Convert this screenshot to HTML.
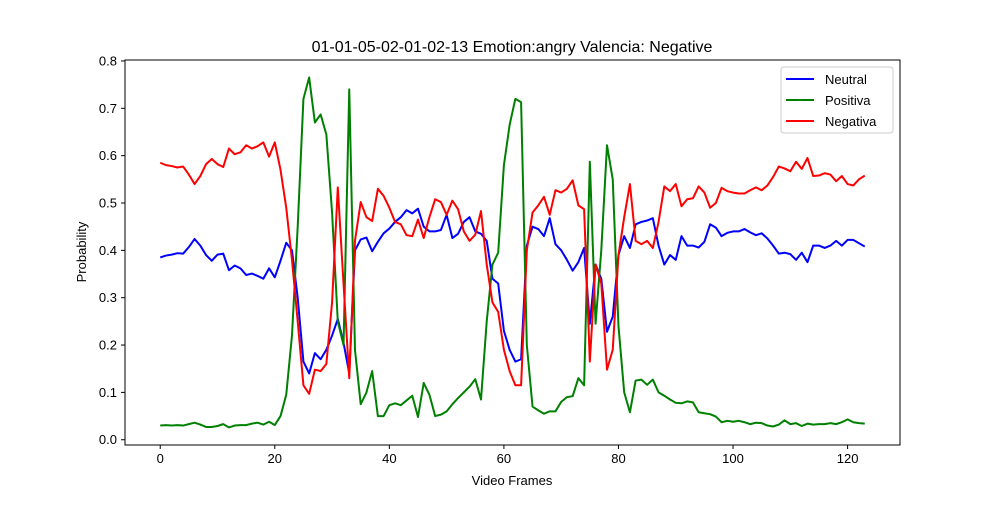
<!DOCTYPE html>
<html><head><meta charset="utf-8"><style>
body{margin:0;background:#fff;}
svg{font-family:"Liberation Sans","DejaVu Sans",sans-serif;}
</style></head><body>
<svg id="chart" width="1000" height="500">
<rect width="1000" height="500" fill="#fff"/>
<text x="512" y="52" font-size="16" text-anchor="middle">01-01-05-02-01-02-13 Emotion:angry Valencia: Negative</text>
<g id="grid"></g>
<g id="series"></g>
<rect x="125" y="60" width="775" height="385" fill="none" stroke="#000" stroke-width="1"/>
<text x="512" y="485" font-size="13" text-anchor="middle">Video Frames</text>
<text x="86" y="252" font-size="13" text-anchor="middle" transform="rotate(-90 86 252)">Probability</text>
<g>
<rect x="781" y="67" width="112" height="66" fill="#fff" fill-opacity="0.8" stroke="#ccc" rx="3"/>
<g><line x1="786" y1="79" x2="814" y2="79" stroke="blue" stroke-width="2"/><text x="825" y="84" font-size="13">Neutral</text></g>
<g><line x1="786" y1="100" x2="814" y2="100" stroke="green" stroke-width="2"/><text x="825" y="105" font-size="13">Positiva</text></g>
<g><line x1="786" y1="121" x2="814" y2="121" stroke="red" stroke-width="2"/><text x="825" y="126" font-size="13">Negativa</text></g>
</g>
</svg>
<script>
const xTicks=[0,20,40,60,80,100,120];
const yTicks=[0.0,0.1,0.2,0.3,0.4,0.5,0.6,0.7,0.8];
const neutral=[.385,.389,.391,.394,.393,.407,.424,.41,.39,.378,.391,.393,.358,.368,.362,.348,.351,.346,.340,.362,.343,.378,.416,.40,.30,.165,.14,.183,.17,.19,.22,.255,.205,.14,.40,.423,.427,.398,.418,.436,.446,.46,.47,.485,.478,.488,.45,.44,.44,.443,.475,.426,.435,.46,.47,.44,.435,.42,.34,.33,.23,.19,.165,.17,.41,.45,.445,.43,.468,.413,.40,.38,.357,.375,.405,.245,.37,.34,.228,.26,.39,.43,.405,.455,.46,.463,.468,.41,.37,.39,.38,.43,.41,.41,.406,.418,.455,.448,.43,.437,.44,.44,.445,.438,.432,.436,.425,.41,.393,.395,.392,.38,.395,.375,.41,.41,.405,.41,.42,.41,.422,.422,.415,.408];
const positiva=[.030,.031,.030,.031,.030,.033,.036,.032,.027,.027,.029,.033,.026,.030,.031,.031,.034,.036,.032,.038,.031,.05,.095,.22,.45,.72,.765,.67,.687,.645,.48,.25,.20,.74,.19,.075,.10,.145,.05,.05,.073,.077,.073,.083,.093,.048,.12,.095,.05,.053,.06,.075,.088,.10,.112,.128,.085,.25,.37,.395,.58,.665,.72,.713,.20,.07,.062,.055,.06,.06,.08,.09,.092,.13,.115,.587,.245,.40,.622,.55,.24,.10,.058,.125,.127,.116,.127,.10,.093,.085,.078,.077,.081,.079,.058,.056,.054,.049,.037,.04,.038,.04,.037,.033,.036,.035,.03,.028,.032,.041,.033,.035,.029,.034,.032,.033,.033,.035,.033,.037,.043,.037,.035,.034];
const negativa=[.585,.58,.578,.575,.577,.56,.54,.557,.582,.593,.582,.576,.615,.603,.607,.622,.615,.62,.628,.598,.628,.57,.49,.38,.25,.115,.097,.148,.145,.16,.29,.533,.33,.13,.42,.502,.47,.462,.53,.515,.49,.46,.455,.432,.43,.465,.426,.47,.508,.502,.475,.505,.487,.44,.42,.433,.483,.37,.29,.27,.19,.145,.115,.115,.40,.48,.495,.513,.475,.527,.522,.53,.548,.495,.487,.165,.37,.33,.148,.19,.39,.47,.54,.42,.413,.42,.405,.46,.535,.525,.54,.493,.508,.51,.535,.522,.49,.50,.532,.525,.522,.52,.52,.527,.533,.527,.537,.555,.577,.573,.567,.587,.572,.595,.557,.558,.563,.56,.546,.557,.54,.537,.55,.558];
const NS="http://www.w3.org/2000/svg";
const X0=125,X1=900,Y0=60,Y1=445,xmin=-6.15,xmax=129.15,ymin=-0.0111,ymax=0.802;
const sx=v=>X0+(v-xmin)/(xmax-xmin)*(X1-X0);
const sy=v=>Y1-(v-ymin)/(ymax-ymin)*(Y1-Y0);
const g=document.getElementById('grid');
xTicks.forEach(t=>{
  const l=document.createElementNS(NS,'line');
  l.setAttribute('x1',sx(t));l.setAttribute('x2',sx(t));l.setAttribute('y1',Y1);l.setAttribute('y2',Y1+4);l.setAttribute('stroke','#000');
  
  
  g.appendChild(l);
  const tx=document.createElementNS(NS,'text');
  tx.setAttribute('x',sx(t));tx.setAttribute('y',Y1+18);tx.setAttribute('font-size','13');tx.setAttribute('text-anchor','middle');
  tx.textContent=t;
  
  
  g.appendChild(tx);
});
yTicks.forEach(t=>{
  const l=document.createElementNS(NS,'line');
  l.setAttribute('x1',X0-4);l.setAttribute('x2',X0);l.setAttribute('y1',sy(t));l.setAttribute('y2',sy(t));l.setAttribute('stroke','#000');
  
  
  g.appendChild(l);
  const tx=document.createElementNS(NS,'text');
  tx.setAttribute('x',X0-8);tx.setAttribute('y',sy(t)+4.5);tx.setAttribute('font-size','13');tx.setAttribute('text-anchor','end');
  tx.textContent=t.toFixed(1);
  
  
  g.appendChild(tx);
});
const s=document.getElementById('series');
[[neutral,'blue','neutral-line'],[positiva,'green','positiva-line'],[negativa,'red','negativa-line']].forEach(([d,c,n])=>{
  const p=document.createElementNS(NS,'polyline');
  p.setAttribute('points',d.map((v,i)=>sx(i).toFixed(2)+','+sy(v).toFixed(2)).join(' '));
  p.setAttribute('fill','none');p.setAttribute('stroke',c);p.setAttribute('stroke-width','2');p.setAttribute('stroke-linejoin','round');
  
  
  s.appendChild(p);
});
</script>
</body></html>
